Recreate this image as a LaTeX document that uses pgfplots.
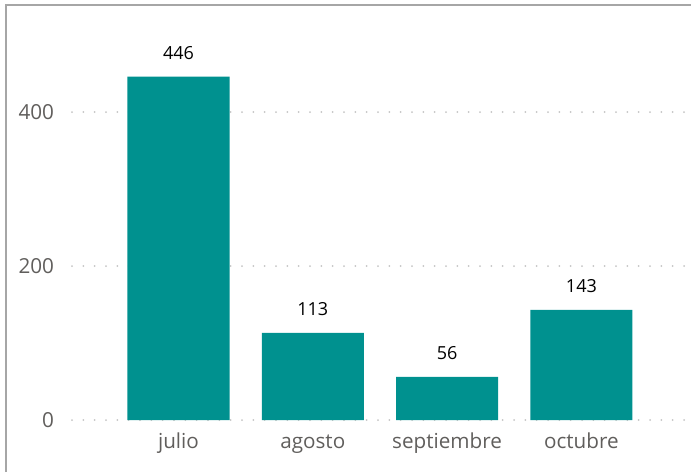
\documentclass[border=0pt]{standalone}
\usepackage{fontspec}
\setmainfont{Open Sans}
\usepackage{pgfplots}
\pgfplotsset{compat=1.18}
\definecolor{barteal}{HTML}{00918F}
\definecolor{ticklab}{HTML}{605E5C}
\definecolor{gridc}{HTML}{C4C4C4}
\definecolor{framec}{HTML}{A6A6A6}
\begin{document}
\begin{tikzpicture}
\useasboundingbox (-54pt,-39pt) rectangle (464.25pt,315pt);
\begin{axis}[
  scale only axis,
  width=464.25pt, height=311.25pt,
  xmin=-0.793, xmax=3.816,
  ymin=0, ymax=539,
  axis line style={draw=none},
  clip=false,
  xtick={0,1,2,3},
  xticklabels={julio,agosto,septiembre,octubre},
  ytick={0,200,400},
  major tick length=0pt,
  tick style={draw=none},
  ymajorgrids,
  grid style={gridc, line width=1.5pt, line cap=round, dash pattern=on 0pt off 8.5pt},
  xticklabel style={font=\fontsize{15.5}{18}\selectfont, text=ticklab, anchor=base, yshift=-21.5pt},
  yticklabel style={font=\fontsize{15.5}{18}\selectfont, text=ticklab, anchor=east, xshift=-10pt},
  /pgf/number format/assume math mode=true,
  ybar, bar width=0.76,
  nodes near coords,
  every node near coord/.append style={font=\fontsize{13.5}{16}\selectfont, text=black, anchor=center, yshift=18pt},
]
\addplot[fill=barteal, draw=none] coordinates {(0,446) (1,113) (2,56) (3,143)};
\end{axis}
\draw[framec, line width=1.5pt] (-49.5pt,-39pt) -- (-49.5pt,311.25pt) -- (464.25pt,311.25pt);
\end{tikzpicture}
\end{document}
